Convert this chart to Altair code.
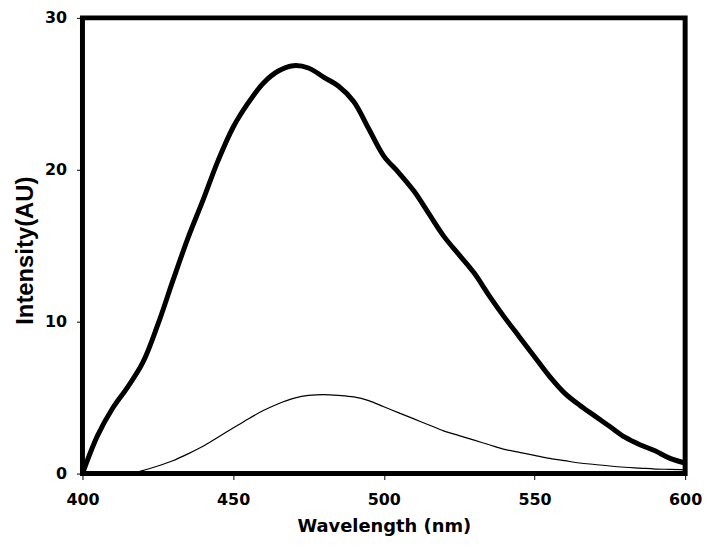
import altair as alt
import pandas as pd

wavelength = [400, 405, 410, 415, 420, 425, 430, 435, 440, 445, 450, 455, 460, 465,
              470, 475, 480, 485, 490, 495, 500, 505, 510, 515, 520, 525, 530, 535,
              540, 545, 550, 555, 560, 565, 570, 575, 580, 585, 590, 595, 600]

thick_intensity = [0.0, 2.5, 4.3, 5.7, 7.3, 9.8, 12.7, 15.5, 18.0, 20.6, 22.8, 24.4, 25.7, 26.5,
                   26.85, 26.7, 26.1, 25.5, 24.5, 22.7, 20.9, 19.8, 18.6, 17.1, 15.6, 14.4, 13.2, 11.7,
                   10.3, 9.0, 7.7, 6.4, 5.3, 4.5, 3.8, 3.1, 2.4, 1.9, 1.5, 1.0, 0.7]

thin_intensity = [0.0, 0.0, 0.0, 0.0, 0.2, 0.5, 0.85, 1.3, 1.8, 2.4, 3.0, 3.6, 4.15, 4.6,
                  4.95, 5.15, 5.2, 5.15, 5.05, 4.8, 4.4, 4.0, 3.6, 3.2, 2.8, 2.5, 2.2, 1.9,
                  1.6, 1.4, 1.2, 1.0, 0.85, 0.7, 0.6, 0.5, 0.42, 0.36, 0.3, 0.28, 0.25]

x_ticks = [400, 450, 500, 550, 600]
y_ticks = [0, 10, 20, 30]

df = pd.DataFrame({
    "wavelength": wavelength * 2,
    "intensity": thick_intensity + thin_intensity,
    "series": ["thick"] * len(wavelength) + ["thin"] * len(wavelength),
})

W, H = 607, 459

x_enc = alt.X("wavelength:Q",
              scale=alt.Scale(domain=[400, 600], nice=False, zero=False),
              axis=alt.Axis(values=x_ticks, title="Wavelength (nm)", grid=False, domain=False,
                            tickSize=6, tickColor="black", tickWidth=1, labelFlush=False,
                            labelFont="DejaVu Sans", labelFontWeight="bold", labelFontSize=16,
                            labelColor="black", labelPadding=12,
                            titleFont="DejaVu Sans", titleFontWeight="bold", titleFontSize=18,
                            titleColor="black", titlePadding=10))
y_enc = alt.Y("intensity:Q",
              scale=alt.Scale(domain=[0, 30], nice=False),
              axis=alt.Axis(values=y_ticks, title="Intensity(AU)", grid=False, domain=False,
                            tickSize=6, tickColor="black", tickWidth=1, labelFlush=False,
                            labelFont="DejaVu Sans", labelFontWeight="bold", labelFontSize=16,
                            labelColor="black", labelPadding=10,
                            titleFont="Liberation Sans", titleFontWeight="bold", titleFontSize=24,
                            titleColor="black", titleAngle=-90, titleX=-57, titleY=234,
                            titleAlign="center", titleBaseline="middle"))

thick = alt.Chart(df).transform_filter(alt.datum.series == "thick").mark_line(
    color="black", strokeWidth=5, interpolate="catmull-rom", clip=True
).encode(x=x_enc, y=y_enc)

thin = alt.Chart(df).transform_filter(alt.datum.series == "thin").mark_line(
    color="black", strokeWidth=1.2, interpolate="monotone", clip=True
).encode(x="wavelength:Q", y="intensity:Q")

chart = alt.layer(thick, thin).properties(
    width=W, height=H,
    autosize=alt.AutoSizeParams(type="none"),
    padding={"left": 75, "top": 8, "right": 20, "bottom": 75},
    background="white",
).configure_view(stroke="black", strokeWidth=5)

chart.save("out.html", embed_options={"renderer": "svg", "actions": False})
